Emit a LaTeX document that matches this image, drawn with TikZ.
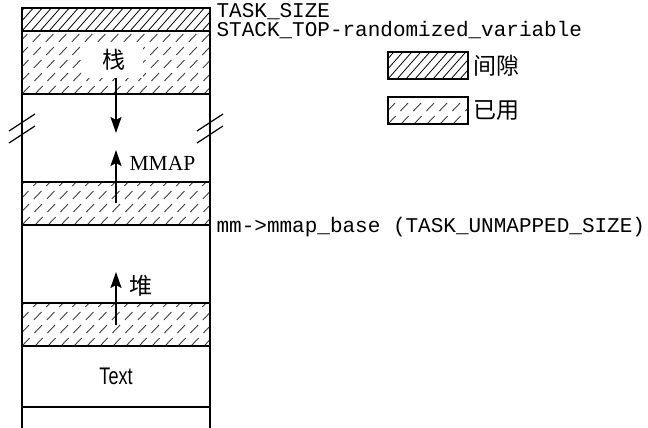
\documentclass[tikz,border=0pt]{standalone}
\usepackage{fontspec}
\setmainfont{Liberation Serif}
\newfontfamily\monofont{Liberation Mono}
\newfontfamily\narrowfont{Liberation Sans}
\newfontfamily\cjk{Noto Sans CJK SC}
\usetikzlibrary{arrows.meta}

\begin{document}
\begin{tikzpicture}[x=1pt, y=-1pt, line width=1.2pt,
        gapline/.style={line width=0.8pt},
        usedline/.style={black!75, line width=0.9pt, dash pattern=on 11pt off 7pt},
        gaphatch/.style={path picture={\foreach \k in {-9,...,24} \draw[gapline] ([xshift=\k*9pt]path picture bounding box.south west) -- ++(60pt,68pt);}},
        usedhatch/.style={path picture={\foreach \k in {-6,...,17} \draw[usedline] ([xshift=\k*13pt]path picture bounding box.south west) -- ++(65pt,68pt);}},
        addr/.style={anchor=base west, inner sep=0pt, font=\monofont\fontsize{21}{24}\selectfont},
        cjklabel/.style={inner sep=0pt, font=\cjk\fontsize{23}{26}\selectfont},
        growarrow/.style={line width=1.6pt, -{Stealth[length=16pt, width=11pt, inset=3pt]}}]
        \useasboundingbox (0,0) rectangle (648,428);
        % memory column
        \draw[gaphatch] (22,8) rectangle (210,31);
        \draw[usedhatch] (22,31) rectangle (210,94);
        \draw[usedhatch] (22,182) rectangle (210,225);
        \draw[usedhatch] (22,303) rectangle (210,346);
        \draw (22,8) -- (22,428); \draw (210,8) -- (210,428);
        \draw (22,407) -- (210,407);
        
        % break marks
        \foreach \xx in {22,210} {
            \draw (\xx-13,131) -- ++(26,-17);
            \draw (\xx-13,143) -- ++(26,-17);
        }
        
        % labels inside the column
        \node[cjklabel, fill=white, minimum width=58pt, minimum height=36pt] (stack) at (114,60) {栈};
        \node[cjklabel, anchor=west] (heap) at (129,286) {堆};
        \node[anchor=west, inner sep=0pt, font=\fontsize{21.5}{24}\selectfont] (mmap) at (129,163) {MMAP};
        \node[inner sep=0pt, font=\narrowfont\fontsize{24}{26}\selectfont] (text) at (116,376) {\scalebox{0.75}[1]{Text}};
        
        \coordinate (stackfrom) at (116,78);  \coordinate (stackto) at (116,133);
        \coordinate (mmapfrom) at (116,203);  \coordinate (mmapto) at (116,150);
        \coordinate (heapfrom) at (116,325);  \coordinate (heapto) at (116,272);
        \draw[growarrow] (stackfrom) -- (stackto);
        \draw[growarrow] (mmapfrom) -- (mmapto);
        \draw[growarrow] (heapfrom) -- (heapto);
        
        % addresses
        \node[addr] (tasksize) at (216,18) {TASK\_SIZE};
        \node[addr] (stacktop) at (216,37) {STACK\_TOP-randomized\_variable};
        \node[addr] (mmapbase) at (216,232) {mm->mmap\_base (TASK\_UNMAPPED\_SIZE)};
        
        % legend
        \draw[gaphatch] (388,52) rectangle (468,79);
        \draw[usedhatch] (388,97) rectangle (468,124);
        \node[cjklabel, anchor=west] (gaplabel) at (473,66) {间隙};
        \node[cjklabel, anchor=west] (usedlabel) at (473,111) {已用};
\end{tikzpicture}
\end{document}
